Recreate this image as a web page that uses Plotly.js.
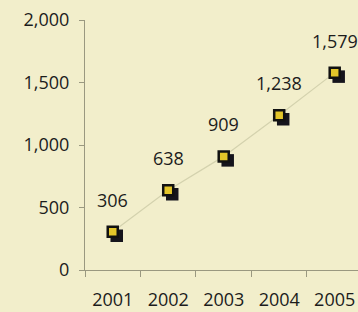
<!DOCTYPE html>
<html>
<head>
<meta charset="utf-8">
<script src="https://cdn.plot.ly/plotly-3.0.1.min.js"></script>
<style>html,body{margin:0;padding:0;background:#f2eecb;}#chart{width:358px;height:312px;}</style>
</head>
<body>
<div id="chart"></div>
<script>
var years = [2001, 2002, 2003, 2004, 2005];
var values = [306, 638, 909, 1238, 1579];
var valueLabels = ['306', '638', '909', '1,238', '1,579'];
var yTicks = [0, 500, 1000, 1500, 2000];
var yTickLabels = ['0', '500', '1,000', '1,500', '2,000'];

var font = 'Open Sans, Noto Sans, sans-serif';
var shadowDx = 0.072, shadowDy = 32;

var line = {
  x: years, y: values, type: 'scatter', mode: 'lines',
  line: {color: '#d4d2ae', width: 1.2}, hoverinfo: 'skip'
};
var shadow = {
  x: years.map(function(v){return v + shadowDx;}),
  y: values.map(function(v){return v - shadowDy;}),
  type: 'scatter', mode: 'markers',
  marker: {symbol: 'square', size: 12.5, color: '#15141c', line: {width: 0}},
  hoverinfo: 'skip'
};
var pts = {
  x: years, y: values, type: 'scatter', mode: 'markers',
  marker: {symbol: 'square', size: 10, color: '#e3c52a', line: {color: '#111111', width: 2.5}}
};

var annotations = years.map(function(yr, i){
  return {x: yr, y: values[i], text: valueLabels[i], showarrow: false,
    yshift: 32, xshift: 0, font: {family: font, size: 18, color: '#1c1c1c'}};
});

var layout = {
  width: 358, height: 312,
  margin: {l: 85, r: 0, t: 20, b: 42},
  paper_bgcolor: '#f2eecb', plot_bgcolor: '#f2eecb',
  showlegend: false,
  font: {family: font, size: 18, color: '#1c1c1c'},
  xaxis: {
    range: [2000.5, 2005.42], tickvals: years, ticktext: years.map(String),
    ticks: '', showgrid: false, zeroline: false,
    showline: true, linecolor: '#9a9880', linewidth: 1,
    ticklabelstandoff: 13,
    minor: {tickvals: [2000.5, 2001.5, 2002.5, 2003.5, 2004.5], ticks: 'outside', ticklen: 6, tickcolor: '#9a9880', showgrid: false},
    tickfont: {family: font, size: 18, color: '#1c1c1c'}
  },
  yaxis: {
    range: [0, 2000], tickvals: yTicks, ticktext: yTickLabels,
    ticks: 'outside', ticklen: 5, tickcolor: '#9a9880',
    showgrid: false, zeroline: false,
    showline: true, linecolor: '#9a9880', linewidth: 1,
    ticklabelstandoff: 6,
    tickfont: {family: font, size: 18, color: '#1c1c1c'}
  },
  annotations: annotations
};

Plotly.newPlot('chart', [line, shadow, pts], layout, {displayModeBar: false, staticPlot: true});
</script>
</body>
</html>
